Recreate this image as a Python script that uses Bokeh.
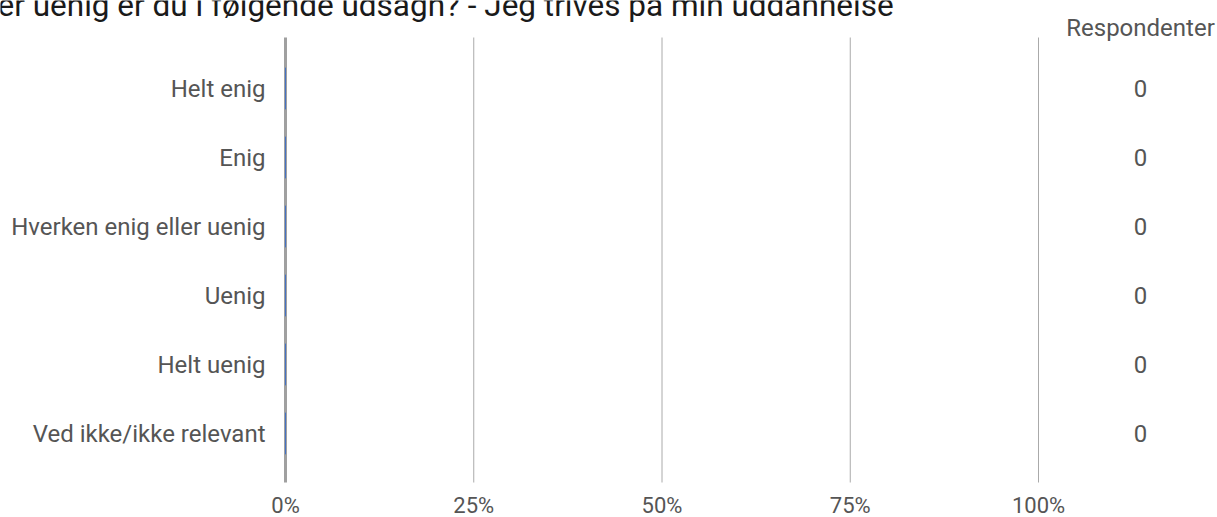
from bokeh.plotting import figure
from bokeh.models import Range1d
from bokeh.core.properties import value
from bokeh.embed import file_html
from bokeh.resources import INLINE

title_text = "er uenig er du i følgende udsagn? - Jeg trives på min uddannelse"
categories = ["Helt enig", "Enig", "Hverken enig eller uenig", "Uenig", "Helt uenig", "Ved ikke/ikke relevant"]
percent = [0, 0, 0, 0, 0, 0]
respondents = [0, 0, 0, 0, 0, 0]
x_ticks = [0, 25, 50, 75, 100]
x_tick_labels = ["0%", "25%", "50%", "75%", "100%"]
count_header = "Respondenter"

FONT = value("Roboto")
TXT = "#555555"

# layout (pixels on the canvas)
W, H = 1217, 517
PX_X0, PX_X100 = 285, 1038          # where 0% and 100% sit
PX_ROW0, ROW_H = 88, 69             # centre of first row, row spacing
PX_TOP, PX_BOTTOM = 37, 482         # extent of grid lines
PX_COUNT = 1140                     # centre of the count column
PX_TICKLBL = 505                    # centre of x tick labels
PX_HEADER = 27                      # centre of "Respondenter"
PX_TITLE_X, PX_TITLE_Y = -3, 5      # title start / centre line

UPX = 100 / (PX_X100 - PX_X0)


def dx(px):
    return (px - PX_X0) * UPX


def dy(py):
    return (py - PX_ROW0) / ROW_H


ys = list(range(len(categories)))

p = figure(width=W, height=H, output_backend="svg", toolbar_location=None,
           x_range=Range1d(dx(0), dx(W)), y_range=Range1d(dy(H), dy(0)),
           min_border=0, x_axis_type=None, y_axis_type=None)
p.outline_line_color = None
p.grid.visible = False
p.background_fill_color = "white"
p.border_fill_color = "white"

# grid lines at 25..100 %
p.segment(x0=x_ticks[1:], x1=x_ticks[1:], y0=dy(PX_TOP), y1=dy(PX_BOTTOM),
          line_color="#aaaaaa", line_width=1)
# axis line at 0 %
p.segment(x0=[x_ticks[0]], x1=[x_ticks[0]], y0=dy(PX_TOP), y1=dy(PX_BOTTOM),
          line_color="#a0a0a0", line_width=3)

# bars (all zero)
p.hbar(y=ys, left=0, right=percent, height=0.6, color="#4472c4")

# category labels
p.text(x=[0] * len(ys), y=ys, text=categories, x_offset=-20,
       text_font=FONT, text_font_size="24px", text_color=TXT,
       text_align="right", text_baseline="middle")

# respondent counts
p.text(x=[dx(PX_COUNT)] * len(ys), y=ys, text=[str(n) for n in respondents],
       text_font=FONT, text_font_size="24px", text_color=TXT,
       text_align="center", text_baseline="middle")
p.text(x=[dx(PX_COUNT)], y=[dy(PX_HEADER)], text=[count_header],
       text_font=FONT, text_font_size="24px", text_color=TXT,
       text_align="center", text_baseline="middle")

# x tick labels
p.text(x=x_ticks, y=[dy(PX_TICKLBL)] * len(x_ticks), text=x_tick_labels,
       text_font=FONT, text_font_size="22px", text_color=TXT,
       text_align="center", text_baseline="middle")

# title (overflowing the canvas, as in the original)
p.text(x=[dx(PX_TITLE_X)], y=[dy(PX_TITLE_Y)], text=[title_text],
       text_font=FONT, text_font_size="31.5px", text_color="#1a1a1a",
       text_align="left", text_baseline="middle")

open("out.html", "w").write(file_html(p, INLINE))
